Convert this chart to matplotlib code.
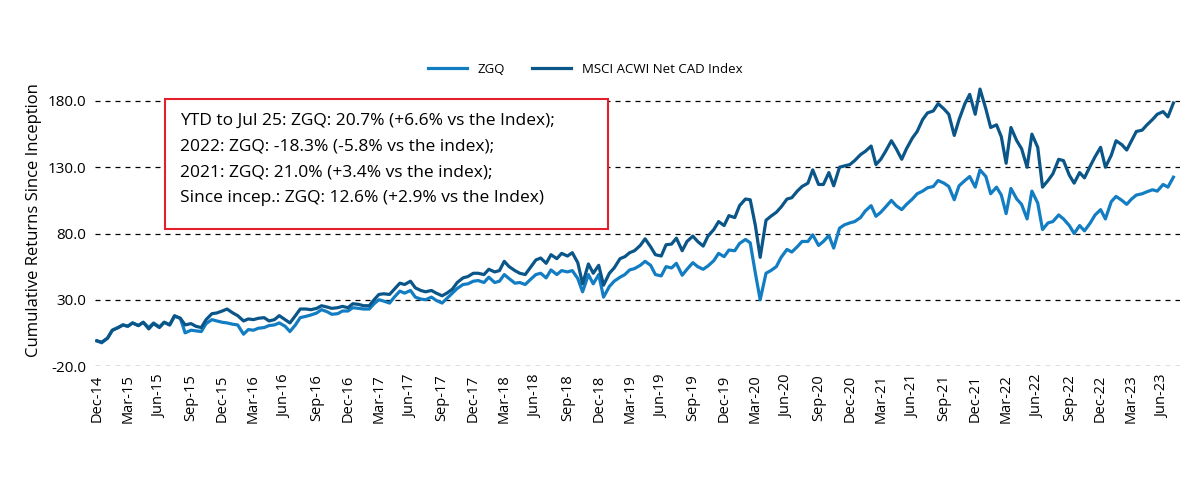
import matplotlib
matplotlib.use("Agg")
import matplotlib.pyplot as plt
import matplotlib.dates as mdates
import pandas as pd
from matplotlib.patches import Rectangle

plt.rcParams['font.family'] = ['Open Sans', 'DejaVu Sans']

# cumulative returns since inception (%), read every half month from Dec-14
msci = [
    -1, -2, 1, 7, 9, 11, 10, 12.5, 10.5, 13, 8, 12,
    9, 13, 11, 18, 16, 11, 12, 10, 9, 15, 19.5, 20,
    21.5, 23, 20, 18, 14, 15.5, 15, 16, 16.5, 14, 15, 18,
    15, 12.5, 18, 23, 23, 22.5, 23.5, 25.5, 24.5, 23.5, 24, 25,
    24, 27, 26.5, 25.5, 25.5, 30, 34, 34.5, 34, 38, 42.5, 41.5,
    44, 39, 37, 36, 37, 35, 33, 35, 38, 43, 46.5, 47.5,
    50, 50, 49, 53, 51, 52, 59, 55, 52, 50, 49, 54,
    60, 61.5, 57.5, 64, 61, 65, 63, 65.5, 58, 42, 57, 50,
    56, 41, 50, 54, 61, 62.5, 65.5, 67, 71, 76, 70, 64,
    63, 71.5, 72, 76.5, 67, 74, 78, 74, 70.5, 78, 83, 89,
    86, 93.5, 92, 101, 106, 105.5, 86, 62, 90, 93, 96, 100,
    106, 107, 112, 115.5, 118, 128, 117, 117, 126, 116, 130, 131,
    132, 135, 139.5, 142, 146, 132, 136, 142, 150, 144, 136, 144,
    152, 157, 166, 171, 172.5, 178, 174, 170, 154, 166, 178, 185,
    170, 189, 174, 160, 162, 153, 133, 160, 150, 144, 130, 155,
    145, 115, 120, 125, 136, 135, 124, 118, 126, 122, 131, 138,
    145, 130, 139, 150, 147, 143, 150, 157, 158, 162, 166, 170,
    172, 168, 178.5,
]

zgq = [
    -1, -2.5, 1, 7, 9, 11, 10, 12.5, 10.5, 13, 9, 12.5,
    9.5, 13, 11, 17.5, 16, 5, 7, 6.5, 6, 12, 15, 14,
    13, 12.5, 11.5, 11, 4, 7.5, 7, 8.5, 9, 10.5, 11, 12.5,
    10, 6, 11, 16.5, 17.5, 18.5, 20, 22.5, 21, 19, 19.5, 21.5,
    21.5, 24, 23.5, 23, 23, 27, 30, 29, 27.5, 32, 36.5, 35,
    37, 32, 30.5, 30, 32, 29.5, 27.5, 31, 35, 38.5, 41.5, 42,
    44, 44.5, 43, 47, 43, 44, 49, 46, 42.5, 43, 41.5, 45,
    49, 50, 46.5, 52.5, 49, 52, 51, 52, 46, 36, 49, 42,
    49, 32, 40, 44, 47, 49, 52.5, 53.5, 56, 59, 56, 49,
    48, 55, 54, 57.5, 48.5, 53, 58, 55, 53, 55.5, 59.5, 65,
    62.5, 67.5, 67, 72.5, 75.5, 73, 50, 30, 50, 52, 55, 62,
    68, 66, 70, 74, 74, 79, 71, 74, 78.5, 69, 84, 86.5,
    88, 89, 92, 97, 101, 93, 96, 100, 105, 101, 98, 102,
    106, 110, 112, 114.5, 115.5, 120, 118, 115.5, 105.5, 116, 120, 123,
    115, 128, 123, 110, 115, 109, 95, 114, 106, 102, 91, 112,
    103, 83, 88, 89, 94, 91, 86, 80, 86, 82, 88, 94,
    98, 91, 104, 108, 105, 102, 106, 109, 110, 111.5, 113, 112,
    117, 115, 122.5,
]

dates = pd.date_range("2014-12-01", periods=len(zgq), freq="SMS")

y_ticks = [-20, 30, 80, 130, 180]

notes = [
    "YTD to Jul 25: ZGQ: 20.7% (+6.6% vs the Index);",
    "2022: ZGQ: -18.3% (-5.8% vs the index);",
    "2021: ZGQ: 21.0% (+3.4% vs the index);",
    "Since incep.: ZGQ: 12.6% (+2.9% vs the Index)",
]

fig = plt.figure(figsize=(12, 5), dpi=100)
ax = fig.add_axes([0.079, 0.268, 0.904, 0.583])

ax.plot(dates, zgq, color="#127dc2", linewidth=2.3, label="ZGQ")
ax.plot(dates, msci, color="#0b5688", linewidth=2.3, label="MSCI ACWI Net CAD Index")

ax.set_ylim(-20, 200)
ax.set_yticks(y_ticks)
ax.yaxis.set_major_formatter(matplotlib.ticker.FormatStrFormatter("%.1f"))
ax.grid(axis="y", color="black", linestyle=(0, (4, 4)), linewidth=0.9)
ax.set_axisbelow(True)

ax.set_xlim(pd.Timestamp("2014-11-25"), pd.Timestamp("2023-07-19"))
ax.xaxis.set_major_locator(mdates.MonthLocator(bymonth=[3, 6, 9, 12]))
ax.xaxis.set_major_formatter(mdates.DateFormatter("%b-%y"))
plt.setp(ax.get_xticklabels(), rotation=90, fontsize=10.5)
plt.setp(ax.get_yticklabels(), fontsize=11)
ax.tick_params(length=0, pad=6)

for s in ax.spines.values():
    s.set_visible(False)

ax.set_ylabel("Cumulative Returns Since Inception", fontsize=12)

ax.legend(loc="lower center", bbox_to_anchor=(0.452, 0.955), ncol=2, frameon=False,
          fontsize=9.5, handlelength=3, columnspacing=2.0)

# highlighted note box
fig.patches.append(Rectangle((0.1375, 0.542), 0.369, 0.26, transform=fig.transFigure,
                             facecolor="white", edgecolor="#e3202c", linewidth=1.5, zorder=5))
for i, line in enumerate(notes):
    fig.text(0.15, 0.758 - i * 0.0515, line, fontsize=12.5, va="center", zorder=6)

fig.savefig("out.png", dpi=100)
